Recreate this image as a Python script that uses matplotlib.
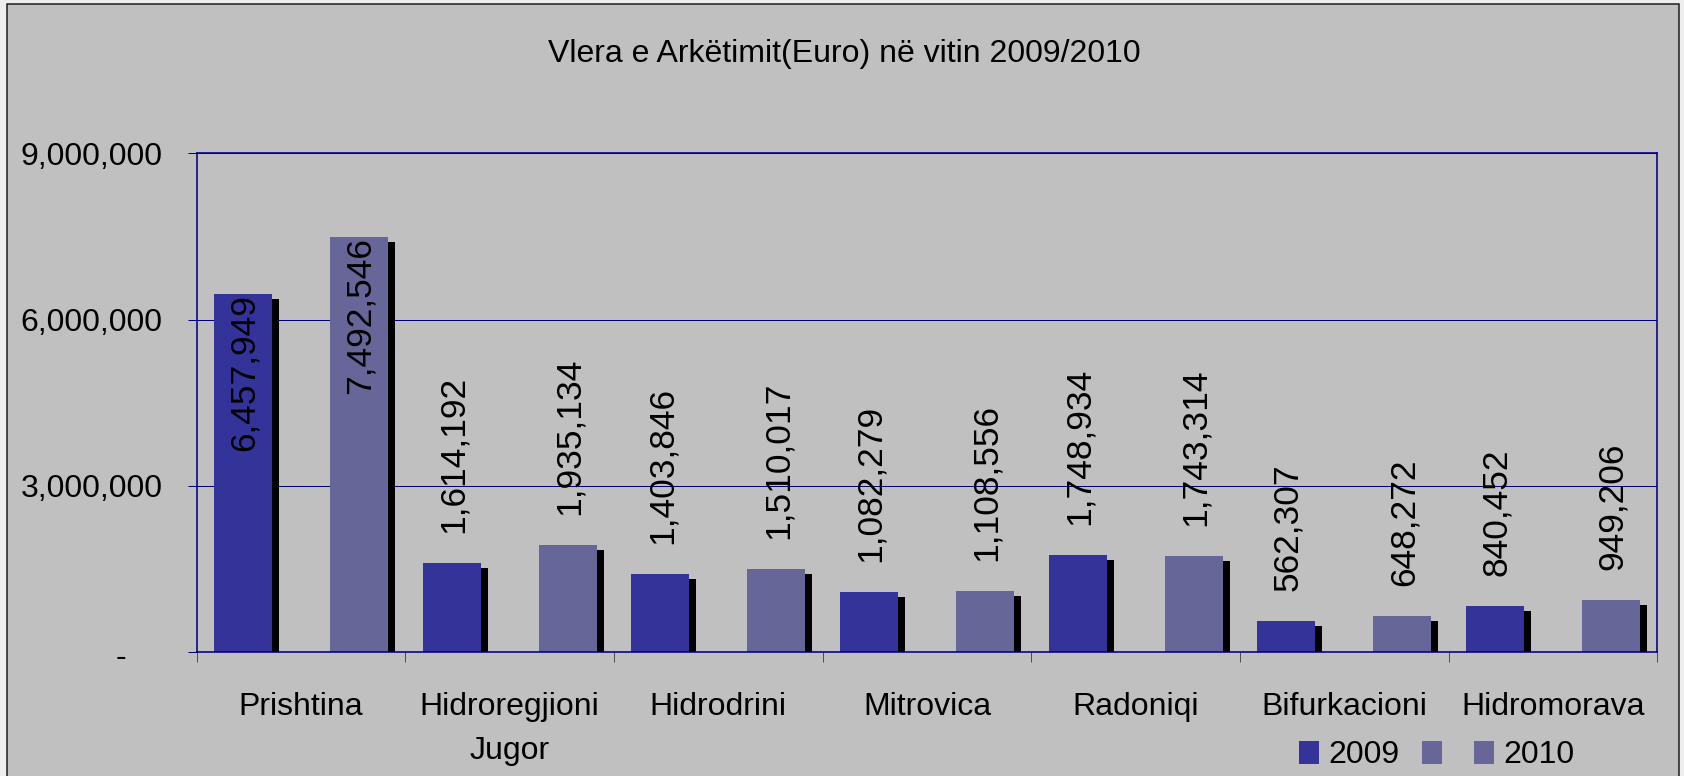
import matplotlib
matplotlib.use("Agg")
import matplotlib.pyplot as plt
import numpy as np
from matplotlib import patheffects as pe
from matplotlib.patches import Rectangle, Patch
from matplotlib.ticker import FixedLocator, FuncFormatter

# ---------------- data ----------------
categories = ["Prishtina", "Hidroregjioni\nJugor", "Hidrodrini", "Mitrovica",
              "Radoniqi", "Bifurkacioni", "Hidromorava"]
values_2009 = [6457949, 1614192, 1403846, 1082279, 1748934, 562307, 840452]
values_2010 = [7492546, 1935134, 1510017, 1108556, 1743314, 648272, 949206]
series_labels = ["2009", "", "2010"]
y_ticks = [0, 3000000, 6000000, 9000000]
title = "Vlera e Arkëtimit(Euro) në vitin 2009/2010"

# ---------------- style ----------------
W, H, DPI = 1684, 776, 100
PX = 72 / DPI  # points per pixel
C2009 = "#333399"
C2010 = "#666699"
NAVY = "#000080"
BG = "#C0C0C0"

plt.rcParams['font.family'] = ['Liberation Sans', 'DejaVu Sans']

fig = plt.figure(figsize=(W / DPI, H / DPI), dpi=DPI, facecolor="#EEEEEE")
fig.add_artist(Rectangle((7 / W, -0.05), (1679 - 7) / W, 1 - 4 / H + 0.05,
                         transform=fig.transFigure, facecolor=BG,
                         edgecolor="#1a1a1a", linewidth=1.5 * PX, zorder=-5))

left, right, top, bottom = 196.7, 1657.3, 153.3, 652.3
ax = fig.add_axes([left / W, 1 - bottom / H, (right - left) / W, (bottom - top) / H])
ax.set_facecolor(BG)

x = np.arange(len(categories))
w = 0.278
shadow = [pe.SimplePatchShadow(offset=(7 * PX, -5 * PX), shadow_rgbFace="black", alpha=1.0),
          pe.Normal()]
b1 = ax.bar(x - w, values_2009, w, color=C2009, zorder=3)
b2 = ax.bar(x + w, values_2010, w, color=C2010, zorder=3)
for b in list(b1) + list(b2):
    b.set_path_effects(shadow)

ax.set_xlim(-0.5, len(categories) - 0.5)
ax.set_ylim(y_ticks[0], y_ticks[-1])

# grid & spines
ax.set_axisbelow(True)
ax.yaxis.grid(True, color=NAVY, linewidth=1 * PX)
for s in ax.spines.values():
    s.set_color(NAVY)
    s.set_linewidth(1.6 * PX)
    s.set_zorder(4)

# y axis
ax.set_yticks(y_ticks)
ax.yaxis.set_major_formatter(FuncFormatter(lambda v, p: f"{v:,.0f}" if v else ""))
ax.tick_params(axis="y", direction="out", length=8.7 * PX, width=1 * PX, color=NAVY,
               pad=25.3 * PX, labelsize=23, labelcolor="black")
ax.annotate("-", xy=(0, 0), xycoords=("axes fraction", "data"),
            xytext=(-70.7 * PX, -2 * PX), textcoords="offset points",
            ha="right", va="center_baseline", fontsize=23, annotation_clip=False)

# x axis
ax.set_xticks(x)
ax.set_xticklabels(categories, linespacing=1.6)
ax.xaxis.set_minor_locator(FixedLocator(np.arange(len(categories) + 1) - 0.5))
ax.tick_params(axis="x", which="major", length=0, pad=39.5 * PX, labelsize=23,
               labelcolor="black")
ax.tick_params(axis="x", which="minor", direction="out", length=10 * PX,
               width=1 * PX, color="#505050")

# data labels
texts = []
for xs, vals in ((x - w, values_2009), (x + w, values_2010)):
    for xi, v in zip(xs, vals):
        t = ax.annotate(f"{v:,}", xy=(xi, v), xytext=(1.5 * PX, 30 * PX),
                        textcoords="offset points", rotation=90, ha="center",
                        va="bottom", fontsize=25.5, zorder=6, annotation_clip=False)
        texts.append(t)

fig.canvas.draw()
renderer = fig.canvas.get_renderer()
ax_top = ax.get_window_extent(renderer).y1
for t in texts:
    bb = t.get_window_extent(renderer)
    if bb.y1 > ax_top:
        t.set_va("top")
        t.xyann = (1.5 * PX, 0)

# title
fig.text(844.5 / W, 1 - 62.3 / H, title, ha="center", va="baseline", fontsize=23)

# legend
handles = [Patch(facecolor=c, edgecolor="none") for c in (C2009, C2010, C2010)]
fig.legend(handles, series_labels, loc="center left",
           bbox_to_anchor=(1299 / W, 1 - 755.4 / H), bbox_transform=fig.transFigure,
           ncol=3, frameon=False, fontsize=23, handlelength=0.63, handleheight=0.72,
           handletextpad=0.28, columnspacing=0.72, borderpad=0, borderaxespad=0)

fig.savefig("out.png", dpi=DPI, facecolor=fig.get_facecolor())
